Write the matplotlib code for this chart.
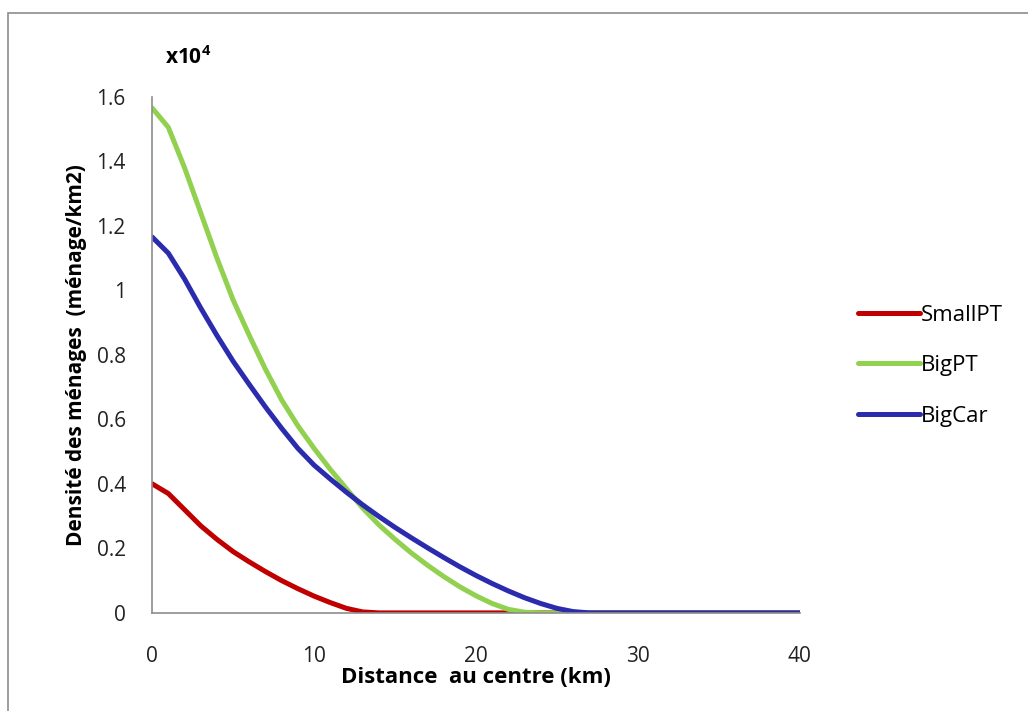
import matplotlib
matplotlib.use("Agg")
import matplotlib.pyplot as plt
from matplotlib.patches import Rectangle
from matplotlib.ticker import FuncFormatter

# distance au centre (km)
distance = list(range(0, 41))

small_pt = [0.40, 0.37, 0.32, 0.27, 0.228, 0.19, 0.158, 0.128, 0.10, 0.075,
            0.052, 0.032, 0.014, 0.003, 0.0] + [0.0] * 26
big_pt = [1.565, 1.505, 1.38, 1.24, 1.10, 0.97, 0.86, 0.755, 0.66, 0.58,
          0.51, 0.445, 0.385, 0.325, 0.273, 0.228, 0.186, 0.148, 0.113, 0.081,
          0.053, 0.029, 0.011, 0.002, 0.0] + [0.0] * 16
big_car = [1.165, 1.115, 1.035, 0.945, 0.86, 0.78, 0.708, 0.638, 0.572, 0.51,
           0.458, 0.415, 0.374, 0.335, 0.299, 0.265, 0.233, 0.202, 0.172, 0.143,
           0.116, 0.091, 0.068, 0.047, 0.029, 0.014, 0.004, 0.0] + [0.0] * 13

series = [("SmallPT", small_pt, "#C00000"),
          ("BigPT", big_pt, "#92D050"),
          ("BigCar", big_car, "#2B2BAE")]

plt.rcParams["font.family"] = ["Open Sans", "DejaVu Sans"]
plt.rcParams["mathtext.fontset"] = "custom"
plt.rcParams["mathtext.bf"] = "Open Sans:bold"
plt.rcParams["mathtext.rm"] = "Open Sans"

fig = plt.figure(figsize=(10.28, 7.11), dpi=100)
ax = fig.add_axes([0.148, 0.138, 0.630, 0.726])

for name, vals, col in series:
    ax.plot(distance, vals, color=col, lw=3.6, label=name,
            solid_capstyle="round", solid_joinstyle="round")

ax.set_xlim(0, 40)
ax.set_ylim(0, 1.6)
ax.set_xticks([0, 10, 20, 30, 40])
ax.set_yticks([0, 0.2, 0.4, 0.6, 0.8, 1.0, 1.2, 1.4, 1.6])
ax.yaxis.set_major_formatter(FuncFormatter(lambda v, p: f"{v:g}"))
ax.tick_params(length=0, labelsize=15, colors="#222222")
ax.tick_params(axis="y", pad=19)
ax.tick_params(axis="x", pad=24)

for s in ["top", "right"]:
    ax.spines[s].set_visible(False)
for s in ["left", "bottom"]:
    ax.spines[s].set_color("#8c8c8c")
    ax.spines[s].set_linewidth(1.2)

ax.set_xlabel("Distance  au centre (km)", fontsize=16, fontweight="bold",
              labelpad=0)
ax.set_ylabel("Densité des ménages  (ménage/km2)", fontsize=15,
              fontweight="bold", labelpad=7)
fig.text(165 / 1028, 1 - 58 / 711, r"$\mathbf{x10^{4}}$", fontsize=15,
         va="center")

leg = ax.legend(loc="center left", bbox_to_anchor=(1.0895, 0.479),
                frameon=False, fontsize=16, handlelength=2.8,
                handletextpad=0.05, labelspacing=1.33, borderpad=0,
                borderaxespad=0)

# outer chart frame
fig.patches.append(Rectangle((8 / 1028, -0.05), 1.2, 1 - 13 / 711 + 0.05,
                             transform=fig.transFigure, fill=False,
                             edgecolor="#8c8c8c", lw=1.2))

fig.savefig("out.png", dpi=100)
